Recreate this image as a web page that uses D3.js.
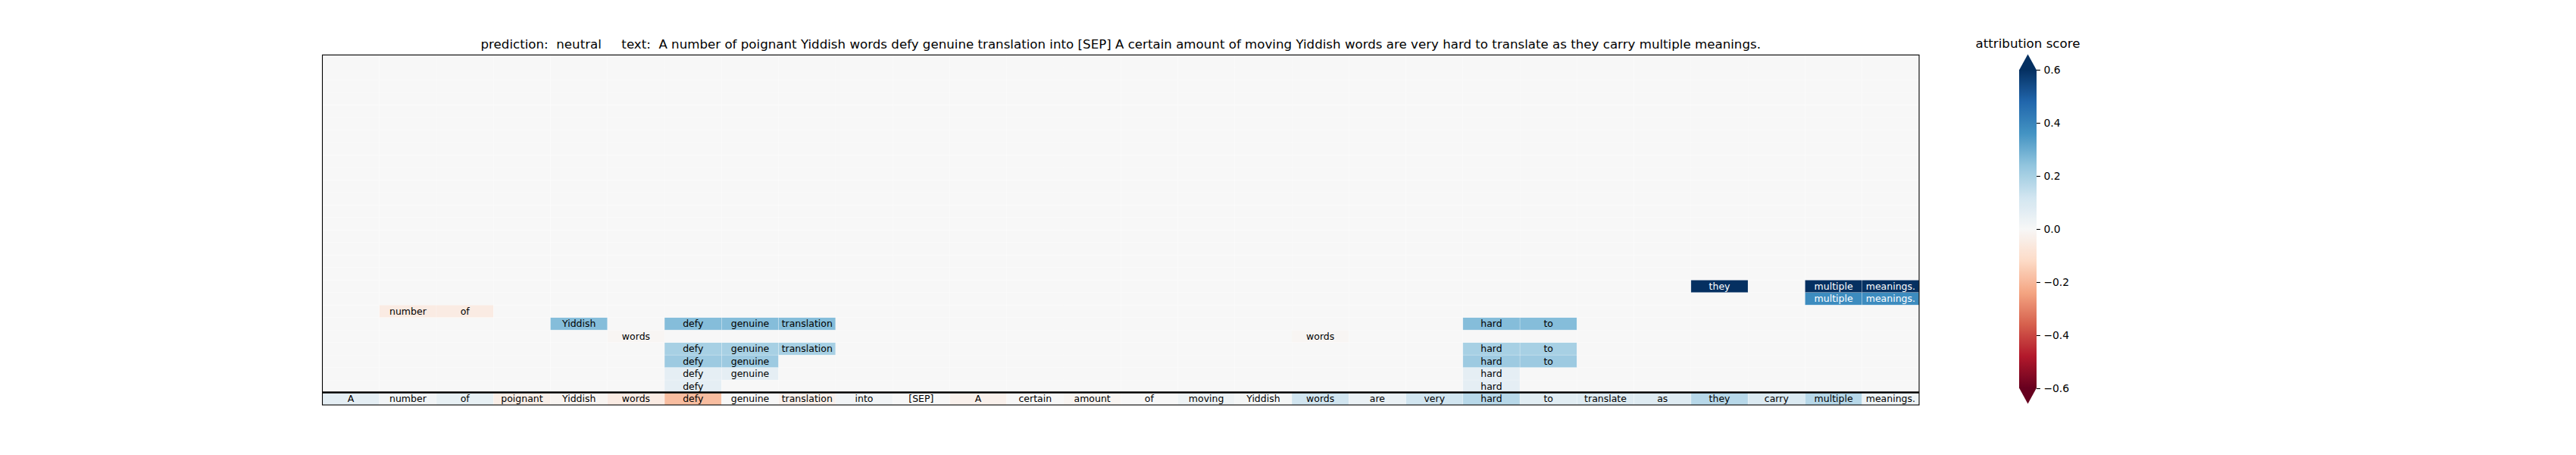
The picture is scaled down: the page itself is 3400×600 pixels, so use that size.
<!DOCTYPE html>
<html>
<head>
<meta charset="utf-8">
<script src="https://cdn.jsdelivr.net/npm/d3@7"></script>
<style>
  html, body { margin: 0; padding: 0; background: #ffffff; }
  svg text { font-family: "DejaVu Sans", sans-serif; white-space: pre; }
</style>
</head>
<body>
<svg id="chart" width="3400" height="600" xml:space="preserve"></svg>
<script>
// ---------------- data ----------------
const tokens = ["A","number","of","poignant","Yiddish","words","defy","genuine","translation","into","[SEP]",
  "A","certain","amount","of","moving","Yiddish","words","are","very","hard","to","translate","as","they","carry","multiple","meanings."];

// attribution score of each single token (bottom row)
const baseScores = [0.06, 0.02, 0.05, -0.04, -0.015, -0.05, -0.187, 0.0, -0.03, 0.02, 0.0,
  -0.03, 0.0, -0.015, 0.0, 0.03, 0.01, 0.12, 0.04, 0.12, 0.17, 0.07, 0.08, 0.08, 0.17, 0.09, 0.17, 0.03];

// phrase spans above the token row: level, first token, last token, score
const spanLevel = [7, 6, 5, 6, 4, 3, 2, 1, 5, 6, 4, 3, 2, 1, 9, 9, 8];
const spanStart = [1, 4, 5, 6, 6, 6, 6, 6, 17, 20, 20, 20, 20, 20, 24, 26, 26];
const spanEnd   = [2, 4, 5, 8, 8, 7, 7, 6, 17, 21, 21, 21, 20, 20, 24, 27, 27];
const spanScore = [-0.05, 0.26, -0.01, 0.26, 0.2, 0.22, 0.057, 0.057, -0.01, 0.26, 0.2, 0.22, 0.057, 0.057, 0.65, 0.65, 0.38];

const nLevels = 28;
const colorTicks = [0.6, 0.4, 0.2, 0.0, -0.2, -0.4, -0.6];
const titleText = "prediction:  neutral     text:  " + tokens.join(" ");
const cbarTitle = "attribution score";

// ---------------- layout ----------------
const svg = d3.select("#chart");
const axLeft = 425.5, axRight = 2533, axTop = 72.5, axBottom = 534;

const x = d3.scaleLinear().domain([0, tokens.length]).range([axLeft, axRight]);
const y = d3.scaleLinear().domain([0, nLevels]).range([axBottom, axTop]);

const rdbu = ["#67001f","#b2182b","#d6604d","#f4a582","#fddbc7","#f7f7f7","#d1e5f0","#92c5de","#4393c3","#2166ac","#053061"];
const color = d3.scaleLinear()
  .domain(d3.range(11).map(i => -0.6 + i * 0.12))
  .range(rdbu)
  .interpolate(d3.interpolateRgb)
  .clamp(true);

// grid of cells: background = 0
const cells = [];
for (let r = 0; r < nLevels; r++) {
  for (let c = 0; c < tokens.length; c++) {
    cells.push({r, c, v: r === 0 ? baseScores[c] : 0, label: r === 0 ? tokens[c] : null});
  }
}
spanLevel.forEach((lv, i) => {
  for (let c = spanStart[i]; c <= spanEnd[i]; c++) {
    const cell = cells[lv * tokens.length + c];
    cell.v = spanScore[i];
    cell.label = tokens[c];
  }
});

const g = svg.append("g");
g.selectAll("rect.cell").data(cells).join("rect")
  .attr("class", "cell")
  .attr("x", d => x(d.c))
  .attr("y", d => y(d.r + 1))
  .attr("width", d => x(d.c + 1) - x(d.c))
  .attr("height", d => y(d.r) - y(d.r + 1))
  .attr("fill", d => color(d.v))
  .attr("stroke", "#ffffff")
  .attr("stroke-opacity", 0.35)
  .attr("stroke-width", 0.6);

g.selectAll("text.lab").data(cells.filter(d => d.label !== null)).join("text")
  .attr("class", "lab")
  .attr("x", d => (x(d.c) + x(d.c + 1)) / 2)
  .attr("y", d => (y(d.r) + y(d.r + 1)) / 2)
  .attr("text-anchor", "middle")
  .attr("dominant-baseline", "central")
  .attr("font-size", "12.5px")
  .attr("fill", d => Math.abs(d.v) > 0.33 ? "#ffffff" : "#000000")
  .text(d => d.label);

// separator line above token row
svg.append("line")
  .attr("x1", axLeft).attr("x2", axRight)
  .attr("y1", y(1)).attr("y2", y(1))
  .attr("stroke", "#000").attr("stroke-width", 2.6);

// axes frame
svg.append("rect")
  .attr("x", axLeft).attr("y", axTop)
  .attr("width", axRight - axLeft).attr("height", axBottom - axTop)
  .attr("fill", "none").attr("stroke", "#000").attr("stroke-width", 1.1);

// title
svg.append("text")
  .attr("x", (axLeft + axRight) / 2).attr("y", 64)
  .attr("text-anchor", "middle")
  .attr("font-size", "16.67px")
  .attr("fill", "#000")
  .text(titleText);

// ---------------- colorbar ----------------
const cbL = 2665, cbW = 23, cbTop = 92, cbBot = 512, ext = 20.5;
const cy = d3.scaleLinear().domain([-0.6, 0.6]).range([cbBot, cbTop]);
const defs = svg.append("defs");
const grad = defs.append("linearGradient").attr("id", "cbgrad")
  .attr("x1", 0).attr("y1", 1).attr("x2", 0).attr("y2", 0);
d3.range(0, 101).forEach(i => {
  const v = -0.6 + 1.2 * i / 100;
  grad.append("stop").attr("offset", (i) + "%").attr("stop-color", color(v));
});
svg.append("rect").attr("x", cbL).attr("y", cbTop).attr("width", cbW).attr("height", cbBot - cbTop)
  .attr("fill", "url(#cbgrad)");
svg.append("path")
  .attr("d", `M${cbL},${cbTop + 0.5} L${cbL + cbW / 2},${cbTop - ext} L${cbL + cbW},${cbTop + 0.5} Z`)
  .attr("fill", color(0.6));
svg.append("path")
  .attr("d", `M${cbL},${cbBot - 0.5} L${cbL + cbW / 2},${cbBot + ext} L${cbL + cbW},${cbBot - 0.5} Z`)
  .attr("fill", color(-0.6));

const axis = d3.axisRight(cy).tickValues(colorTicks).tickSize(4.9).tickPadding(4.5)
  .tickFormat(d => d3.format(".1f")(d).replace("-", "\u2212"));
const ag = svg.append("g").attr("transform", `translate(${cbL + cbW},0)`).call(axis);
ag.select(".domain").remove();
ag.selectAll(".tick line").attr("stroke", "#000").attr("stroke-width", 1.1);
ag.selectAll(".tick text").attr("font-size", "13.9px").attr("fill", "#000")
  .attr("font-family", "DejaVu Sans, sans-serif");

svg.append("text")
  .attr("x", cbL + cbW / 2).attr("y", 63)
  .attr("text-anchor", "middle")
  .attr("font-size", "16.67px")
  .attr("fill", "#000")
  .text(cbarTitle);
</script>
</body>
</html>
